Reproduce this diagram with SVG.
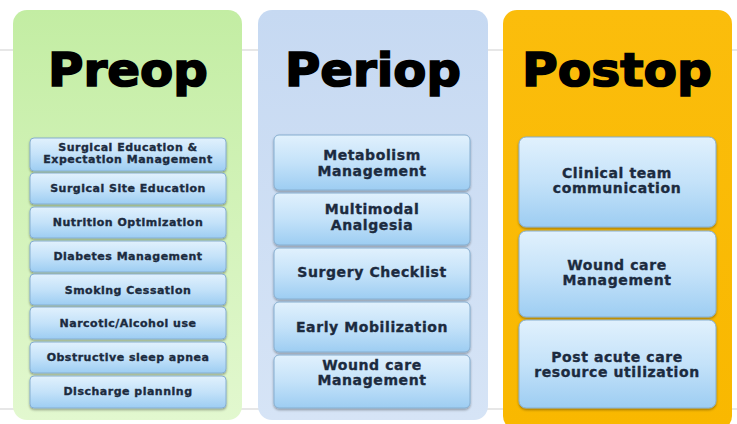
<svg xmlns="http://www.w3.org/2000/svg" width="737" height="424" viewBox="0 0 737 424">
<defs>
<linearGradient id="gGreen" x1="0" y1="0" x2="0" y2="1"><stop offset="0" stop-color="#c3eda3"/><stop offset="1" stop-color="#e2f8cf"/></linearGradient>
<linearGradient id="gBlue" x1="0" y1="0" x2="0" y2="1"><stop offset="0" stop-color="#c6d9f2"/><stop offset="1" stop-color="#d6e4f6"/></linearGradient>
<linearGradient id="gOrange" x1="0" y1="0" x2="0" y2="1"><stop offset="0" stop-color="#fbbd0c"/><stop offset="1" stop-color="#f9b800"/></linearGradient>
<linearGradient id="gBox" x1="0" y1="0" x2="0" y2="1"><stop offset="0" stop-color="#e1f1fd"/><stop offset="0.5" stop-color="#c4e2f9"/><stop offset="1" stop-color="#9dcdf2"/></linearGradient>
<filter id="sh" x="-10%" y="-10%" width="120%" height="130%"><feDropShadow dx="0" dy="1.5" stdDeviation="1.2" flood-color="#000" flood-opacity="0.35"/></filter>
</defs>
<style>
.title{font-family:"DejaVu Sans","Liberation Sans",sans-serif;font-weight:bold;font-size:46px;fill:#000;stroke:#000;stroke-width:1.6;text-anchor:middle}
.box{fill:url(#gBox);stroke:#86aed0;stroke-width:1;filter:url(#sh)}
.t{font-family:"DejaVu Sans","Liberation Sans",sans-serif;font-weight:bold;fill:#1c2b3f;stroke:#1c2b3f;stroke-width:0.35;text-anchor:middle}
.s{font-size:11px;letter-spacing:0.5px}
.m{font-size:14px;letter-spacing:0.6px}
</style>
<rect width="737" height="424" fill="#ffffff"/>
<g id="guides" stroke="#cfcfcf" stroke-width="1">
<line x1="0" y1="50" x2="737" y2="50"/>
<line x1="0" y1="409" x2="737" y2="409"/>
</g>
<g id="preop">
<rect x="13" y="10" width="229" height="410" rx="14" fill="url(#gGreen)"/>
<text class="title" x="128" y="86" textLength="160" lengthAdjust="spacingAndGlyphs">Preop</text>
<rect class="box" x="30" y="138" width="196" height="33" rx="4"/>
<text class="t s" x="128" y="151">Surgical Education &amp;</text>
<text class="t s" x="128" y="163">Expectation Management</text>
<rect class="box" x="30" y="173" width="196" height="31" rx="4"/>
<text class="t s" x="128" y="192">Surgical Site Education</text>
<rect class="box" x="30" y="207" width="196" height="31" rx="4"/>
<text class="t s" x="128" y="226">Nutrition Optimization</text>
<rect class="box" x="30" y="241" width="196" height="31" rx="4"/>
<text class="t s" x="128" y="260">Diabetes Management</text>
<rect class="box" x="30" y="274" width="196" height="31" rx="4"/>
<text class="t s" x="128" y="294">Smoking Cessation</text>
<rect class="box" x="30" y="307" width="196" height="32" rx="4"/>
<text class="t s" x="128" y="327">Narcotic/Alcohol use</text>
<rect class="box" x="30" y="342" width="196" height="31" rx="4"/>
<text class="t s" x="128" y="361">Obstructive sleep apnea</text>
<rect class="box" x="30" y="376" width="196" height="32" rx="4"/>
<text class="t s" x="128" y="395">Discharge planning</text>
</g>
<g id="periop">
<rect x="258" y="10" width="230" height="410" rx="14" fill="url(#gBlue)"/>
<text class="title" x="373" y="86" textLength="176" lengthAdjust="spacingAndGlyphs">Periop</text>
<rect class="box" x="274" y="135" width="196" height="55" rx="5"/>
<text class="t m" x="372" y="160">Metabolism</text>
<text class="t m" x="372" y="176">Management</text>
<rect class="box" x="274" y="193" width="196" height="52" rx="5"/>
<text class="t m" x="372" y="214">Multimodal</text>
<text class="t m" x="372" y="230">Analgesia</text>
<rect class="box" x="274" y="248" width="196" height="51" rx="5"/>
<text class="t m" x="372" y="277">Surgery Checklist</text>
<rect class="box" x="274" y="302" width="196" height="50" rx="5"/>
<text class="t m" x="372" y="332">Early Mobilization</text>
<rect class="box" x="274" y="355" width="196" height="53" rx="5"/>
<text class="t m" x="372" y="370">Wound care</text>
<text class="t m" x="372" y="385">Management</text>
</g>
<g id="postop">
<rect x="503" y="10" width="229" height="420" rx="14" fill="url(#gOrange)"/>
<text class="title" x="617" y="86" textLength="190" lengthAdjust="spacingAndGlyphs">Postop</text>
<rect class="box" x="519" y="137" width="197" height="90" rx="7"/>
<text class="t m" x="617" y="178">Clinical team</text>
<text class="t m" x="617" y="193">communication</text>
<rect class="box" x="519" y="231" width="197" height="86" rx="7"/>
<text class="t m" x="617" y="270">Wound care</text>
<text class="t m" x="617" y="285">Management</text>
<rect class="box" x="519" y="320" width="197" height="88" rx="7"/>
<text class="t m" x="617" y="362">Post acute care</text>
<text class="t m" x="617" y="377">resource utilization</text>
</g>
<g id="connectors"/>
</svg>
